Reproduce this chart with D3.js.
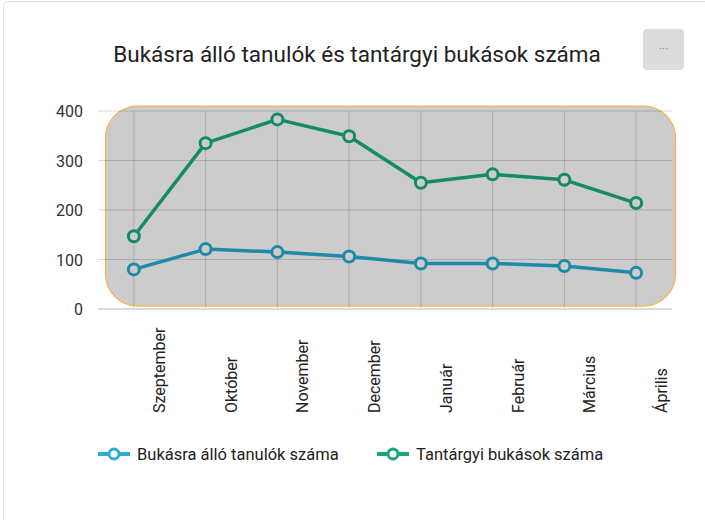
<!DOCTYPE html>
<html>
<head>
<meta charset="utf-8">
<script src="https://cdn.jsdelivr.net/npm/d3@7"></script>
<style>
  body { margin: 0; background: #fff; font-family: Roboto, "Noto Sans", sans-serif; }
</style>
</head>
<body>
<div id="chart"></div>
<script>
const months = ["Szeptember", "Október", "November", "December", "Január", "Február", "Március", "Április"];
const atRisk = [80, 121, 115, 106, 92, 92, 87, 73];
const failures = [147, 335, 383, 349, 255, 272, 261, 214];
const seriesNames = ["Bukásra álló tanulók száma", "Tantárgyi bukások száma"];
const lineColors = ["#1f8aa8", "#148a69"];
const legendColors = ["#2badd6", "#1aa67c"];
const yTicks = [0, 100, 200, 300, 400];

const width = 705, height = 520;
const plot = { left: 98, right: 672, top: 111, bottom: 309 };

const svg = d3.select("#chart")
  .append("svg")
  .attr("width", width)
  .attr("height", height);

// card border
svg.append("rect")
  .attr("x", 3.5).attr("y", 1.5)
  .attr("width", 720).attr("height", 540)
  .attr("rx", 4)
  .attr("fill", "#fff")
  .attr("stroke", "#e2e2e2");

// title
svg.append("text")
  .attr("x", 357)
  .attr("y", 62)
  .attr("text-anchor", "middle")
  .style("font-size", "22.5px")
  .style("fill", "#222")
  .text("Bukásra álló tanulók és tantárgyi bukások száma");

// menu button
svg.append("rect")
  .attr("x", 643).attr("y", 29)
  .attr("width", 41).attr("height", 41)
  .attr("rx", 4)
  .attr("fill", "#dcdcdc");
svg.append("text")
  .attr("x", 663.5).attr("y", 53)
  .attr("text-anchor", "middle")
  .style("font-size", "13px")
  .style("fill", "#8899aa")
  .text("···");

const x = d3.scaleBand()
  .domain(months)
  .range([plot.left, plot.right]);

const y = d3.scaleLinear()
  .domain([0, 400])
  .range([plot.bottom, plot.top]);

// plot background
svg.append("rect")
  .attr("x", 105.5)
  .attr("y", y(410))
  .attr("width", 570)
  .attr("height", y(6) - y(410))
  .attr("rx", 32)
  .attr("fill", "#cccccc")
  .attr("stroke", "#f7b34a")
  .attr("stroke-width", 1.2);

// grid
svg.append("g")
  .selectAll("line")
  .data(yTicks.slice(1))
  .join("line")
  .attr("x1", plot.left).attr("x2", plot.right)
  .attr("y1", d => y(d)).attr("y2", d => y(d))
  .attr("stroke", "#000")
  .attr("stroke-opacity", 0.15);

svg.append("g")
  .selectAll("line")
  .data(months)
  .join("line")
  .attr("x1", d => x(d) + x.bandwidth() / 2)
  .attr("x2", d => x(d) + x.bandwidth() / 2)
  .attr("y1", y(400)).attr("y2", y(0))
  .attr("stroke", "#000")
  .attr("stroke-opacity", 0.15);

// baseline
svg.append("line")
  .attr("x1", plot.left).attr("x2", plot.right)
  .attr("y1", y(0)).attr("y2", y(0))
  .attr("stroke", "#cfcfcf")
  .attr("stroke-width", 1.5);

// y axis labels
svg.append("g")
  .selectAll("text")
  .data(yTicks)
  .join("text")
  .attr("x", 83)
  .attr("y", d => y(d) + 6)
  .attr("text-anchor", "end")
  .style("font-size", "16px")
  .style("fill", "#333")
  .text(d => d);

// x labels (shifted right of the ticks, like the original)
svg.append("g")
  .selectAll("text")
  .data(months)
  .join("text")
  .attr("transform", d => `translate(${x(d) + x.bandwidth() / 2 + 31},413) rotate(-90)`)
  .attr("text-anchor", "start")
  .style("font-size", "16px")
  .style("fill", "#222")
  .text(d => d);

// lines
const series = [atRisk, failures];
const line = d3.line()
  .x((d, i) => x(months[i]) + x.bandwidth() / 2)
  .y(d => y(d));

series.forEach((values, s) => {
  svg.append("path")
    .datum(values)
    .attr("d", line)
    .attr("fill", "none")
    .attr("stroke", lineColors[s])
    .attr("stroke-width", 3.5)
    .attr("stroke-linejoin", "round");

  svg.append("g")
    .selectAll("circle")
    .data(values)
    .join("circle")
    .attr("cx", (d, i) => x(months[i]) + x.bandwidth() / 2)
    .attr("cy", d => y(d))
    .attr("r", 5.5)
    .attr("fill", "#cccccc")
    .attr("stroke", lineColors[s])
    .attr("stroke-width", 3);
});

// legend
const legendX = [98, 377];
const legend = svg.append("g")
  .selectAll("g")
  .data(seriesNames)
  .join("g")
  .attr("transform", (d, i) => `translate(${legendX[i]},454)`);

legend.append("line")
  .attr("x1", 0).attr("x2", 32)
  .attr("stroke", (d, i) => legendColors[i])
  .attr("stroke-width", 4);
legend.append("circle")
  .attr("cx", 16)
  .attr("r", 5)
  .attr("fill", "#fff")
  .attr("stroke", (d, i) => legendColors[i])
  .attr("stroke-width", 3);
legend.append("text")
  .attr("x", 39)
  .attr("y", 6)
  .style("font-size", "16.5px")
  .style("fill", "#222")
  .text(d => d);
</script>
</body>
</html>
